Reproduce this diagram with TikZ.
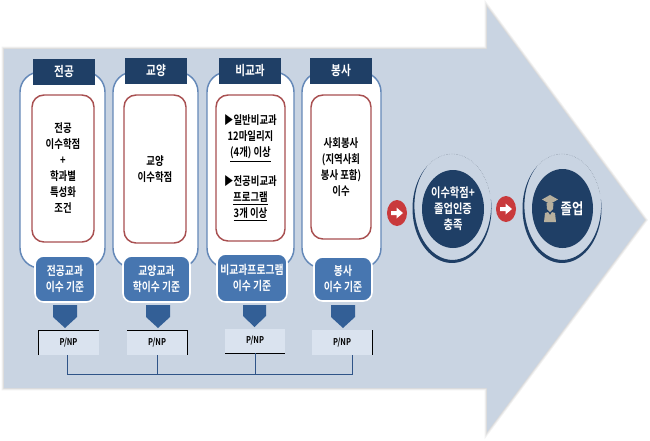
\documentclass[tikz,border=0pt]{standalone}
\usepackage{fontspec}
\setmainfont{Noto Sans CJK KR}[BoldFont={Noto Sans CJK KR Bold},FakeStretch=0.8]
\usetikzlibrary{shapes.geometric,arrows.meta}
\definecolor{arrowfill}{HTML}{C9D4E2}
\definecolor{navy}{HTML}{1F3F66}
\definecolor{outerline}{HTML}{6488B8}
\definecolor{redline}{HTML}{A84F50}
\definecolor{bluebox}{HTML}{4776B0}
\definecolor{pent}{HTML}{335F96}
\definecolor{pnpfill}{HTML}{DAE3EF}
\definecolor{busline}{HTML}{2F5488}
\definecolor{btn}{HTML}{C93A3C}
\definecolor{iconcol}{HTML}{B7B09E}
\tikzset{
  x=0.75pt,y=-0.75pt,
  pxnode/.style={inner sep=0pt,outer sep=0pt,align=center},
  outerbox/.style={pxnode,draw=outerline,line width=1.1pt,fill=white,rounded corners=15pt},
  headbox/.style={pxnode,fill=navy,text=white,font=\bfseries\fontsize{10}{11}\selectfont},
  redbox/.style={pxnode,draw=redline,line width=1.1pt,fill=white,rounded corners=9pt,
    font=\bfseries\fontsize{8.8}{12}\selectfont},
  stdbox/.style={pxnode,draw=white,line width=1.2pt,fill=bluebox,rounded corners=6.5pt,text=white,
    font=\bfseries\fontsize{9.2}{12.2}\selectfont},
  pentbox/.style={fill=pent},
  pnpbox/.style={pxnode,fill=pnpfill,font=\bfseries\fontsize{7}{8}\selectfont},
  blackedge/.style={black,line width=0.7pt},
  bus/.style={busline,line width=0.6pt},
  darkdisc/.style={pxnode,ellipse,fill=navy,text=white,font=\bfseries\fontsize{9.6}{12}\selectfont},
  redbtn/.style={pxnode,ellipse,fill=btn,minimum width=15pt,minimum height=19.5pt},
  shaftedge/.style={line width=#1,line join=miter,draw=black,draw opacity=0.05},
}
\newcommand{\pxbox}[7]{\node[#1,minimum width={(#4-#2)*0.75pt},minimum height={(#5-#3)*0.75pt}] (#6) at ({(#2+#4)/2},{(#3+#5)/2}) {#7};}
% arrow glyph inside a button
\newcommand{\btnarrow}[2]{\fill[white] (#1-6,#2-2) -- (#1-0.5,#2-2) -- (#1-0.5,#2-5.5) -- (#1+6,#2) -- (#1-0.5,#2+5.5) -- (#1-0.5,#2+2) -- (#1-6,#2+2) -- cycle;}
% ring: crescent + faint arc
\newcommand{\ringshape}[2]{%
  \fill[navy,smooth] plot[domain=-10:230,samples=50] ({#1+39.5*cos(\x)},{#2+54.5*sin(\x)})
    -- plot[domain=230:-10,samples=50] ({#1+(39.5-3.2*sin((\x+10)*0.75))*cos(\x)},{#2+(54.5-3.2*sin((\x+10)*0.75))*sin(\x)}) -- cycle;
  \draw[gray!60!navy,line width=0.25pt,densely dotted] plot[domain=230:345,samples=40,smooth] ({#1+39.5*cos(\x)},{#2+54.5*sin(\x)});
}
\begin{document}
\begin{tikzpicture}
\useasboundingbox (0,0) rectangle (650,440);
\fill[white] (0,0) rectangle (650,440);
% big arrow with soft shadow
\def\arrowpath{(4,49) -- (487,49) -- (487,7) -- (645,220) -- (487,432) -- (487,388) -- (4,388) -- cycle}
\draw[shaftedge=3.6pt] \arrowpath;
\draw[shaftedge=2.2pt] \arrowpath;
\draw[shaftedge=1.0pt] \arrowpath;
\fill[arrowfill] \arrowpath;
% outer panels
\pxbox{outerbox}{20}{72}{105}{268}{o1}{}
\pxbox{outerbox}{113}{72}{198}{268}{o2}{}
\pxbox{outerbox}{207}{72}{294}{268}{o3}{}
\pxbox{outerbox}{302}{72}{381}{268}{o4}{}
% headers
\pxbox{headbox}{33}{59}{95}{85}{h1}{전공}
\pxbox{headbox}{125}{58}{187}{84}{h2}{교양}
\pxbox{headbox}{219}{58}{281}{84}{h3}{비교과}
\pxbox{headbox}{310}{58}{372}{84}{h4}{봉사}
% inner red boxes
\pxbox{redbox}{32}{95}{94}{242}{r1}{전공\\이수학점\\+\\학과별\\특성화\\조건}
\pxbox{redbox}{124}{95}{186}{243}{r2}{교양\\이수학점}
\pxbox{redbox}{216}{95}{285}{241}{r3}{▶일반비교과\\12마일리지\\\underline{(4개) 이상}\\[9.5pt]▶전공비교과\\\underline{프로그램}\\\underline{3개 이상}}
\pxbox{redbox}{311}{95}{371}{239}{r4}{사회봉사\\(지역사회\\봉사 포함)\\이수}
% standard boxes
\pxbox{stdbox}{35}{256}{95}{302}{s1}{전공교과\\이수 기준}
\pxbox{stdbox}{123}{256}{190}{302}{s2}{교양교과\\학이수 기준}
\pxbox{stdbox}{217}{254}{287}{302}{s3}{비교과프로그램\\이수 기준}
\pxbox{stdbox}{314}{257}{372}{301}{s4}{봉사\\이수 기준}
% pentagons
\fill[pentbox] (53,305) -- (77,305) -- (77,317) -- (65,328) -- (53,317) -- cycle;
\fill[pentbox] (146,305) -- (170,305) -- (170,317) -- (158,328) -- (146,317) -- cycle;
\fill[pentbox] (243,305) -- (266,305) -- (266,316) -- (254.5,327) -- (243,316) -- cycle;
\fill[pentbox] (331,305) -- (355,305) -- (355,317) -- (343,328) -- (331,317) -- cycle;
% P/NP
\pxbox{pnpbox}{38}{330}{99}{355}{p1}{P/NP}
\pxbox{pnpbox}{127}{330}{187}{355}{p2}{P/NP}
\pxbox{pnpbox}{225}{329}{285}{353}{p3}{P/NP}
\pxbox{pnpbox}{312}{330}{372}{355}{p4}{P/NP}
\draw[blackedge] (p1.south west) -- (p1.north west) -- (p1.north east);
\draw[blackedge] (p2.north west) -- (p2.north east) -- (p2.south east);
\draw[blackedge] (p3.south west) -- (p3.south east);
\draw[blackedge] (p4.north east) -- (p4.south east);
% bus
\coordinate (b1) at (67,374);
\coordinate (b2) at (157,374);
\coordinate (b3) at (255,374);
\coordinate (b4) at (352,374);
\draw[bus] (b1 |- p1.south) -- (b1) -- (b4) -- (b4 |- p4.south);
\draw[bus] (b2 |- p2.south) -- (b2);
\draw[bus] (b3 |- p3.south) -- (b3);
% buttons
\node[redbtn] (btnA) at (397,213) {};
\btnarrow{397}{213}
\node[redbtn] (btnB) at (506,209) {};
\btnarrow{506}{209}
% circles
\ringshape{452}{208.5}
\ringshape{562}{208.5}
\pxbox{darkdisc}{422}{170}{484}{248}{c1}{이수학점+\\졸업인증\\충족}
\pxbox{darkdisc}{532}{169}{593}{248}{c2}{}
\node[pxnode,text=white,font=\bfseries\fontsize{11.5}{13}\selectfont] (grad) at (572,209) {졸업};
% graduate icon
\fill[iconcol] (550,195) -- (558,199.5) -- (550,204) -- (542,199.5) -- cycle;
\fill[iconcol] (546.5,203) -- (553.5,203) -- (553,209) -- (550,212) -- (547,209) -- cycle;
\fill[iconcol] (545,213) -- (548,212) -- (550,215) -- (552,212) -- (555,213) -- (556,222) -- (544,222) -- cycle;
\end{tikzpicture}
\end{document}
